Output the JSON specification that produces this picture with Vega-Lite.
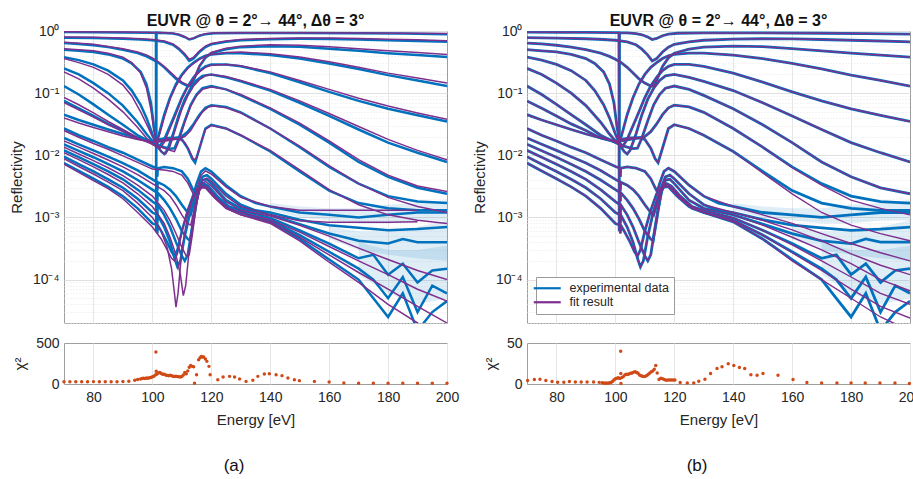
{
"$schema": "https://vega.github.io/schema/vega-lite/v6.json",
"background": "white",
"padding": {"left": 8, "top": 12, "right": 5, "bottom": 5},
"config": {
 "font": "Liberation Sans",
 "view": {"stroke": "#9e9e9e", "strokeWidth": 1},
 "axis": {"labelFont": "Liberation Sans", "titleFont": "Liberation Sans", "labelColor": "#262626", "titleColor": "#262626", "titleFontWeight": "normal", "domain": false, "ticks": false, "gridColor": "#e3e3e3", "labelFontSize": 14, "titleFontSize": 15},
 "title": {"font": "Liberation Sans", "color": "#111111"}
},
"datasets": {
"exp": [
{"c":1,"E":70,"R":0.96},{"c":1,"E":80,"R":0.955},{"c":1,"E":90,"R":0.95},{"c":1,"E":100,"R":0.94},{"c":1,"E":101.2,"R":0.94},{"c":1,"E":101.3,"R":0.0006},{"c":1,"E":101.4,"R":0.94},{"c":1,"E":104,"R":0.93},{"c":1,"E":107,"R":0.91},{"c":1,"E":109,"R":0.87},{"c":1,"E":111,"R":0.8},{"c":1,"E":112.5,"R":0.73},{"c":1,"E":114,"R":0.76},{"c":1,"E":116,"R":0.84},{"c":1,"E":118,"R":0.89},{"c":1,"E":121,"R":0.92},{"c":1,"E":130,"R":0.93},{"c":1,"E":150,"R":0.93},{"c":1,"E":170,"R":0.92},{"c":1,"E":185,"R":0.91},{"c":1,"E":200,"R":0.89},
{"c":2,"E":70,"R":0.78},{"c":2,"E":80,"R":0.77},{"c":2,"E":90,"R":0.75},{"c":2,"E":96,"R":0.73},{"c":2,"E":100,"R":0.71},{"c":2,"E":104,"R":0.67},{"c":2,"E":107,"R":0.6},{"c":2,"E":109,"R":0.51},{"c":2,"E":111,"R":0.41},{"c":2,"E":112.5,"R":0.33},{"c":2,"E":114,"R":0.36},{"c":2,"E":116,"R":0.46},{"c":2,"E":118,"R":0.55},{"c":2,"E":120,"R":0.61},{"c":2,"E":125,"R":0.67},{"c":2,"E":130,"R":0.71},{"c":2,"E":140,"R":0.74},{"c":2,"E":150,"R":0.75},{"c":2,"E":160,"R":0.745},{"c":2,"E":170,"R":0.73},{"c":2,"E":180,"R":0.71},{"c":2,"E":190,"R":0.69},{"c":2,"E":200,"R":0.67},
{"c":3,"E":70,"R":0.64},{"c":3,"E":75,"R":0.62},{"c":3,"E":80,"R":0.59},{"c":3,"E":85,"R":0.55},{"c":3,"E":90,"R":0.5},{"c":3,"E":95,"R":0.44},{"c":3,"E":98,"R":0.39},{"c":3,"E":100,"R":0.35},{"c":3,"E":102,"R":0.31},{"c":3,"E":104,"R":0.26},{"c":3,"E":106,"R":0.21},{"c":3,"E":108,"R":0.17},{"c":3,"E":110,"R":0.145},{"c":3,"E":112,"R":0.13},{"c":3,"E":113,"R":0.13},{"c":3,"E":114,"R":0.16},{"c":3,"E":116,"R":0.27},{"c":3,"E":118,"R":0.37},{"c":3,"E":120,"R":0.44},{"c":3,"E":125,"R":0.51},{"c":3,"E":130,"R":0.55},{"c":3,"E":140,"R":0.57},{"c":3,"E":150,"R":0.56},{"c":3,"E":160,"R":0.52},{"c":3,"E":170,"R":0.48},{"c":3,"E":180,"R":0.44},{"c":3,"E":190,"R":0.41},{"c":3,"E":200,"R":0.38},
{"c":4,"E":70,"R":0.5},{"c":4,"E":75,"R":0.48},{"c":4,"E":80,"R":0.46},{"c":4,"E":85,"R":0.42},{"c":4,"E":90,"R":0.36},{"c":4,"E":93,"R":0.3},{"c":4,"E":96,"R":0.22},{"c":4,"E":98,"R":0.14},{"c":4,"E":99.5,"R":0.07},{"c":4,"E":100.5,"R":0.03},{"c":4,"E":101.3,"R":0.017},{"c":4,"E":102,"R":0.02},{"c":4,"E":104,"R":0.045},{"c":4,"E":106,"R":0.085},{"c":4,"E":108,"R":0.14},{"c":4,"E":110,"R":0.2},{"c":4,"E":112,"R":0.26},{"c":4,"E":114,"R":0.31},{"c":4,"E":116,"R":0.36},{"c":4,"E":118,"R":0.4},{"c":4,"E":120,"R":0.42},{"c":4,"E":125,"R":0.44},{"c":4,"E":130,"R":0.44},{"c":4,"E":140,"R":0.41},{"c":4,"E":150,"R":0.36},{"c":4,"E":160,"R":0.3},{"c":4,"E":170,"R":0.245},{"c":4,"E":180,"R":0.195},{"c":4,"E":190,"R":0.16},{"c":4,"E":200,"R":0.13},
{"c":5,"E":70,"R":0.38},{"c":5,"E":75,"R":0.34},{"c":5,"E":80,"R":0.29},{"c":5,"E":85,"R":0.23},{"c":5,"E":90,"R":0.16},{"c":5,"E":93,"R":0.11},{"c":5,"E":96,"R":0.065},{"c":5,"E":98,"R":0.04},{"c":5,"E":100,"R":0.022},{"c":5,"E":101.3,"R":0.016},{"c":5,"E":102.5,"R":0.014},{"c":5,"E":104,"R":0.018},{"c":5,"E":106,"R":0.03},{"c":5,"E":108,"R":0.05},{"c":5,"E":110,"R":0.085},{"c":5,"E":112,"R":0.13},{"c":5,"E":114,"R":0.18},{"c":5,"E":116,"R":0.23},{"c":5,"E":118,"R":0.27},{"c":5,"E":120,"R":0.29},{"c":5,"E":125,"R":0.29},{"c":5,"E":130,"R":0.27},{"c":5,"E":140,"R":0.21},{"c":5,"E":150,"R":0.15},{"c":5,"E":160,"R":0.105},{"c":5,"E":170,"R":0.075},{"c":5,"E":180,"R":0.056},{"c":5,"E":190,"R":0.044},{"c":5,"E":200,"R":0.035},
{"c":6,"E":70,"R":0.25},{"c":6,"E":75,"R":0.2},{"c":6,"E":80,"R":0.145},{"c":6,"E":85,"R":0.1},{"c":6,"E":90,"R":0.063},{"c":6,"E":95,"R":0.034},{"c":6,"E":98,"R":0.022},{"c":6,"E":100,"R":0.017},{"c":6,"E":101.5,"R":0.0145},{"c":6,"E":103,"R":0.0115},{"c":6,"E":104,"R":0.0105},{"c":6,"E":105,"R":0.012},{"c":6,"E":107,"R":0.022},{"c":6,"E":109,"R":0.045},{"c":6,"E":111,"R":0.08},{"c":6,"E":113,"R":0.12},{"c":6,"E":115,"R":0.16},{"c":6,"E":117,"R":0.19},{"c":6,"E":120,"R":0.2},{"c":6,"E":125,"R":0.18},{"c":6,"E":130,"R":0.155},{"c":6,"E":140,"R":0.11},{"c":6,"E":150,"R":0.07},{"c":6,"E":160,"R":0.043},{"c":6,"E":170,"R":0.026},{"c":6,"E":180,"R":0.016},{"c":6,"E":190,"R":0.011},{"c":6,"E":200,"R":0.0078},
{"c":7,"E":70,"R":0.13},{"c":7,"E":75,"R":0.095},{"c":7,"E":80,"R":0.066},{"c":7,"E":85,"R":0.045},{"c":7,"E":90,"R":0.031},{"c":7,"E":95,"R":0.021},{"c":7,"E":100,"R":0.016},{"c":7,"E":102,"R":0.0145},{"c":7,"E":104,"R":0.0135},{"c":7,"E":106,"R":0.0128},{"c":7,"E":107.5,"R":0.013},{"c":7,"E":109,"R":0.019},{"c":7,"E":111,"R":0.036},{"c":7,"E":113,"R":0.065},{"c":7,"E":115,"R":0.095},{"c":7,"E":117,"R":0.12},{"c":7,"E":120,"R":0.13},{"c":7,"E":125,"R":0.115},{"c":7,"E":130,"R":0.092},{"c":7,"E":140,"R":0.056},{"c":7,"E":150,"R":0.031},{"c":7,"E":160,"R":0.016},{"c":7,"E":170,"R":0.0078},{"c":7,"E":180,"R":0.0045},{"c":7,"E":190,"R":0.003},{"c":7,"E":200,"R":0.0024},
{"c":8,"E":70,"R":0.075},{"c":8,"E":75,"R":0.057},{"c":8,"E":80,"R":0.043},{"c":8,"E":85,"R":0.032},{"c":8,"E":90,"R":0.025},{"c":8,"E":95,"R":0.019},{"c":8,"E":100,"R":0.0165},{"c":8,"E":102,"R":0.017},{"c":8,"E":105,"R":0.018},{"c":8,"E":108,"R":0.019},{"c":8,"E":110,"R":0.02},{"c":8,"E":112,"R":0.024},{"c":8,"E":114,"R":0.032},{"c":8,"E":116,"R":0.045},{"c":8,"E":118,"R":0.058},{"c":8,"E":120,"R":0.064},{"c":8,"E":125,"R":0.06},{"c":8,"E":130,"R":0.049},{"c":8,"E":140,"R":0.027},{"c":8,"E":150,"R":0.0135},{"c":8,"E":160,"R":0.0065},{"c":8,"E":170,"R":0.0035},{"c":8,"E":180,"R":0.0022},{"c":8,"E":190,"R":0.0018},{"c":8,"E":200,"R":0.0017},
{"c":9,"E":70,"R":0.045},{"c":9,"E":75,"R":0.037},{"c":9,"E":80,"R":0.031},{"c":9,"E":85,"R":0.026},{"c":9,"E":90,"R":0.022},{"c":9,"E":95,"R":0.019},{"c":9,"E":100,"R":0.0168},{"c":9,"E":102,"R":0.018},{"c":9,"E":105,"R":0.019},{"c":9,"E":108,"R":0.0192},{"c":9,"E":110,"R":0.018},{"c":9,"E":112,"R":0.013},{"c":9,"E":113.5,"R":0.0088},{"c":9,"E":114.5,"R":0.0076},{"c":9,"E":116,"R":0.013},{"c":9,"E":118,"R":0.027},{"c":9,"E":120,"R":0.031},{"c":9,"E":125,"R":0.027},{"c":9,"E":130,"R":0.021},{"c":9,"E":140,"R":0.0115},{"c":9,"E":150,"R":0.0055},{"c":9,"E":160,"R":0.0027},{"c":9,"E":170,"R":0.0017},{"c":9,"E":180,"R":0.0014},{"c":9,"E":190,"R":0.0013},{"c":9,"E":200,"R":0.0013},
{"c":10,"E":70,"R":0.027},{"c":10,"E":75,"R":0.021},{"c":10,"E":80,"R":0.017},{"c":10,"E":85,"R":0.0135},{"c":10,"E":90,"R":0.011},{"c":10,"E":95,"R":0.0085},{"c":10,"E":100,"R":0.0066},{"c":10,"E":101.6,"R":0.0062},{"c":10,"E":101.7,"R":0.0045},{"c":10,"E":101.8,"R":0.0062},{"c":10,"E":104,"R":0.0065},{"c":10,"E":107,"R":0.0062},{"c":10,"E":110,"R":0.0055},{"c":10,"E":112,"R":0.0042},{"c":10,"E":113.5,"R":0.003},{"c":10,"E":114.2,"R":0.0026},{"c":10,"E":115,"R":0.0035},{"c":10,"E":116.5,"R":0.0055},{"c":10,"E":118,"R":0.0062},{"c":10,"E":120,"R":0.0055},{"c":10,"E":125,"R":0.0033},{"c":10,"E":130,"R":0.0022},{"c":10,"E":135,"R":0.0017},{"c":10,"E":140,"R":0.0015},{"c":10,"E":150,"R":0.0012},{"c":10,"E":160,"R":0.0011},{"c":10,"E":170,"R":0.001},{"c":10,"E":180,"R":0.0011},{"c":10,"E":190,"R":0.0012},{"c":10,"E":200,"R":0.0012},
{"c":11,"E":70,"R":0.019},{"c":11,"E":75,"R":0.015},{"c":11,"E":80,"R":0.012},{"c":11,"E":85,"R":0.0095},{"c":11,"E":90,"R":0.0075},{"c":11,"E":95,"R":0.0057},{"c":11,"E":100,"R":0.0041},{"c":11,"E":101.6,"R":0.0037},{"c":11,"E":101.7,"R":0.0027},{"c":11,"E":101.8,"R":0.0037},{"c":11,"E":104,"R":0.0033},{"c":11,"E":106,"R":0.0028},{"c":11,"E":108,"R":0.0022},{"c":11,"E":110,"R":0.0016},{"c":11,"E":112,"R":0.0012},{"c":11,"E":113,"R":0.0011},{"c":11,"E":114,"R":0.0016},{"c":11,"E":115.5,"R":0.003},{"c":11,"E":117,"R":0.0045},{"c":11,"E":118.5,"R":0.0048},{"c":11,"E":120,"R":0.0042},{"c":11,"E":125,"R":0.0024},{"c":11,"E":130,"R":0.0016},{"c":11,"E":135,"R":0.0013},{"c":11,"E":140,"R":0.0012},{"c":11,"E":150,"R":0.00092},{"c":11,"E":160,"R":0.00075},{"c":11,"E":170,"R":0.00068},{"c":11,"E":180,"R":0.00062},{"c":11,"E":190,"R":0.00065},{"c":11,"E":200,"R":0.0007},
{"c":12,"E":70,"R":0.015},{"c":12,"E":75,"R":0.0118},{"c":12,"E":80,"R":0.0093},{"c":12,"E":85,"R":0.0072},{"c":12,"E":90,"R":0.0055},{"c":12,"E":95,"R":0.004},{"c":12,"E":100,"R":0.0028},{"c":12,"E":101.6,"R":0.0025},{"c":12,"E":101.7,"R":0.0018},{"c":12,"E":101.8,"R":0.0025},{"c":12,"E":104,"R":0.0019},{"c":12,"E":106,"R":0.0014},{"c":12,"E":108,"R":0.00095},{"c":12,"E":110,"R":0.0006},{"c":12,"E":112,"R":0.00045},{"c":12,"E":112.8,"R":0.00042},{"c":12,"E":114,"R":0.0009},{"c":12,"E":115.5,"R":0.0025},{"c":12,"E":117,"R":0.004},{"c":12,"E":118.5,"R":0.0041},{"c":12,"E":120,"R":0.0035},{"c":12,"E":125,"R":0.0019},{"c":12,"E":130,"R":0.0014},{"c":12,"E":140,"R":0.0011},{"c":12,"E":150,"R":0.00078},{"c":12,"E":160,"R":0.00055},{"c":12,"E":170,"R":0.00042},{"c":12,"E":180,"R":0.00038},{"c":12,"E":185,"R":0.00045},{"c":12,"E":190,"R":0.0004},{"c":12,"E":200,"R":0.0004},
{"c":13,"E":70,"R":0.012},{"c":13,"E":75,"R":0.0093},{"c":13,"E":80,"R":0.0072},{"c":13,"E":85,"R":0.0055},{"c":13,"E":90,"R":0.0041},{"c":13,"E":95,"R":0.0028},{"c":13,"E":100,"R":0.0018},{"c":13,"E":101.6,"R":0.0016},{"c":13,"E":101.7,"R":0.0011},{"c":13,"E":101.8,"R":0.0016},{"c":13,"E":104,"R":0.0011},{"c":13,"E":106,"R":0.0007},{"c":13,"E":108,"R":0.0004},{"c":13,"E":110,"R":0.00024},{"c":13,"E":111,"R":0.0002},{"c":13,"E":112,"R":0.00025},{"c":13,"E":113,"R":0.0005},{"c":13,"E":114.5,"R":0.0014},{"c":13,"E":116,"R":0.003},{"c":13,"E":117.5,"R":0.0035},{"c":13,"E":119,"R":0.0032},{"c":13,"E":122,"R":0.0022},{"c":13,"E":126,"R":0.0015},{"c":13,"E":130,"R":0.0013},{"c":13,"E":140,"R":0.00098},{"c":13,"E":150,"R":0.00062},{"c":13,"E":160,"R":0.00038},{"c":13,"E":170,"R":0.00022},{"c":13,"E":175,"R":0.00025},{"c":13,"E":180,"R":0.00012},{"c":13,"E":185,"R":0.00018},{"c":13,"E":190,"R":0.00009},{"c":13,"E":195,"R":0.00014},{"c":13,"E":200,"R":0.00015},
{"c":14,"E":70,"R":0.0095},{"c":14,"E":75,"R":0.0072},{"c":14,"E":80,"R":0.0055},{"c":14,"E":85,"R":0.0041},{"c":14,"E":90,"R":0.003},{"c":14,"E":95,"R":0.002},{"c":14,"E":100,"R":0.0012},{"c":14,"E":101.6,"R":0.0011},{"c":14,"E":101.7,"R":0.0008},{"c":14,"E":101.8,"R":0.0011},{"c":14,"E":104,"R":0.0007},{"c":14,"E":106,"R":0.0004},{"c":14,"E":107.5,"R":0.00022},{"c":14,"E":108.5,"R":0.00016},{"c":14,"E":109.5,"R":0.0002},{"c":14,"E":111,"R":0.0005},{"c":14,"E":113,"R":0.0013},{"c":14,"E":115,"R":0.0025},{"c":14,"E":117,"R":0.0033},{"c":14,"E":119,"R":0.003},{"c":14,"E":122,"R":0.0021},{"c":14,"E":126,"R":0.0014},{"c":14,"E":130,"R":0.0012},{"c":14,"E":140,"R":0.0009},{"c":14,"E":150,"R":0.00052},{"c":14,"E":160,"R":0.00028},{"c":14,"E":170,"R":0.00015},{"c":14,"E":175,"R":0.0001},{"c":14,"E":180,"R":0.00005},{"c":14,"E":185,"R":0.00011},{"c":14,"E":190,"R":0.00003},{"c":14,"E":195,"R":0.00008},{"c":14,"E":200,"R":0.00006},
{"c":15,"E":70,"R":0.0075},{"c":15,"E":75,"R":0.0056},{"c":15,"E":80,"R":0.0042},{"c":15,"E":85,"R":0.0031},{"c":15,"E":90,"R":0.0022},{"c":15,"E":95,"R":0.0014},{"c":15,"E":100,"R":0.0008},{"c":15,"E":101.6,"R":0.00075},{"c":15,"E":101.7,"R":0.00055},{"c":15,"E":101.8,"R":0.00075},{"c":15,"E":103,"R":0.0006},{"c":15,"E":105,"R":0.0004},{"c":15,"E":106.5,"R":0.00028},{"c":15,"E":107.5,"R":0.00024},{"c":15,"E":108.5,"R":0.0003},{"c":15,"E":110,"R":0.0006},{"c":15,"E":112,"R":0.0013},{"c":15,"E":114,"R":0.0024},{"c":15,"E":116,"R":0.0031},{"c":15,"E":118,"R":0.0031},{"c":15,"E":121,"R":0.0022},{"c":15,"E":125,"R":0.0015},{"c":15,"E":130,"R":0.0012},{"c":15,"E":140,"R":0.00085},{"c":15,"E":150,"R":0.00045},{"c":15,"E":160,"R":0.00021},{"c":15,"E":170,"R":0.0001},{"c":15,"E":175,"R":0.00005},{"c":15,"E":180,"R":0.000025},{"c":15,"E":185,"R":0.00006},{"c":15,"E":190,"R":0.000015},{"c":15,"E":195,"R":0.00003},{"c":15,"E":200,"R":0.000045}
],
"fitA": [
{"c":1,"E":70,"R":0.97},{"c":1,"E":90,"R":0.96},{"c":1,"E":100,"R":0.95},{"c":1,"E":104,"R":0.94},{"c":1,"E":107,"R":0.92},{"c":1,"E":109,"R":0.88},{"c":1,"E":111,"R":0.81},{"c":1,"E":112.5,"R":0.74},{"c":1,"E":114,"R":0.77},{"c":1,"E":116,"R":0.85},{"c":1,"E":118,"R":0.9},{"c":1,"E":121,"R":0.93},{"c":1,"E":130,"R":0.94},{"c":1,"E":150,"R":0.94},{"c":1,"E":170,"R":0.93},{"c":1,"E":185,"R":0.92},{"c":1,"E":200,"R":0.91},
{"c":2,"E":70,"R":0.8},{"c":2,"E":80,"R":0.79},{"c":2,"E":90,"R":0.77},{"c":2,"E":96,"R":0.75},{"c":2,"E":100,"R":0.73},{"c":2,"E":104,"R":0.69},{"c":2,"E":107,"R":0.62},{"c":2,"E":109,"R":0.53},{"c":2,"E":111,"R":0.43},{"c":2,"E":112.5,"R":0.35},{"c":2,"E":114,"R":0.38},{"c":2,"E":116,"R":0.48},{"c":2,"E":118,"R":0.57},{"c":2,"E":120,"R":0.63},{"c":2,"E":125,"R":0.69},{"c":2,"E":130,"R":0.73},{"c":2,"E":140,"R":0.76},{"c":2,"E":150,"R":0.77},{"c":2,"E":160,"R":0.77},{"c":2,"E":170,"R":0.76},{"c":2,"E":180,"R":0.74},{"c":2,"E":190,"R":0.72},{"c":2,"E":200,"R":0.7},
{"c":3,"E":70,"R":0.66},{"c":3,"E":80,"R":0.61},{"c":3,"E":90,"R":0.52},{"c":3,"E":95,"R":0.46},{"c":3,"E":98,"R":0.41},{"c":3,"E":100,"R":0.37},{"c":3,"E":102,"R":0.32},{"c":3,"E":104,"R":0.27},{"c":3,"E":106,"R":0.22},{"c":3,"E":108,"R":0.18},{"c":3,"E":110,"R":0.15},{"c":3,"E":112,"R":0.135},{"c":3,"E":113,"R":0.135},{"c":3,"E":114,"R":0.17},{"c":3,"E":116,"R":0.28},{"c":3,"E":118,"R":0.38},{"c":3,"E":120,"R":0.45},{"c":3,"E":125,"R":0.53},{"c":3,"E":130,"R":0.57},{"c":3,"E":140,"R":0.6},{"c":3,"E":150,"R":0.59},{"c":3,"E":160,"R":0.56},{"c":3,"E":170,"R":0.52},{"c":3,"E":180,"R":0.48},{"c":3,"E":190,"R":0.45},{"c":3,"E":200,"R":0.42},
{"c":4,"E":70,"R":0.52},{"c":4,"E":80,"R":0.48},{"c":4,"E":85,"R":0.44},{"c":4,"E":90,"R":0.38},{"c":4,"E":93,"R":0.31},{"c":4,"E":96,"R":0.21},{"c":4,"E":98,"R":0.12},{"c":4,"E":99.5,"R":0.055},{"c":4,"E":100.5,"R":0.025},{"c":4,"E":101.5,"R":0.016},{"c":4,"E":102.5,"R":0.022},{"c":4,"E":104,"R":0.04},{"c":4,"E":106,"R":0.08},{"c":4,"E":108,"R":0.13},{"c":4,"E":110,"R":0.19},{"c":4,"E":112,"R":0.25},{"c":4,"E":114,"R":0.3},{"c":4,"E":116,"R":0.35},{"c":4,"E":118,"R":0.39},{"c":4,"E":120,"R":0.42},{"c":4,"E":125,"R":0.45},{"c":4,"E":130,"R":0.46},{"c":4,"E":140,"R":0.43},{"c":4,"E":150,"R":0.38},{"c":4,"E":160,"R":0.32},{"c":4,"E":170,"R":0.26},{"c":4,"E":180,"R":0.21},{"c":4,"E":190,"R":0.175},{"c":4,"E":200,"R":0.145},
{"c":5,"E":70,"R":0.36},{"c":5,"E":75,"R":0.31},{"c":5,"E":80,"R":0.26},{"c":5,"E":85,"R":0.2},{"c":5,"E":90,"R":0.135},{"c":5,"E":93,"R":0.09},{"c":5,"E":96,"R":0.05},{"c":5,"E":98,"R":0.032},{"c":5,"E":100,"R":0.02},{"c":5,"E":101.5,"R":0.015},{"c":5,"E":102.5,"R":0.013},{"c":5,"E":104,"R":0.016},{"c":5,"E":106,"R":0.027},{"c":5,"E":108,"R":0.046},{"c":5,"E":110,"R":0.08},{"c":5,"E":112,"R":0.125},{"c":5,"E":114,"R":0.175},{"c":5,"E":116,"R":0.22},{"c":5,"E":118,"R":0.26},{"c":5,"E":120,"R":0.28},{"c":5,"E":125,"R":0.29},{"c":5,"E":130,"R":0.275},{"c":5,"E":140,"R":0.22},{"c":5,"E":150,"R":0.16},{"c":5,"E":160,"R":0.115},{"c":5,"E":170,"R":0.083},{"c":5,"E":180,"R":0.062},{"c":5,"E":190,"R":0.048},{"c":5,"E":200,"R":0.038},
{"c":6,"E":70,"R":0.22},{"c":6,"E":75,"R":0.17},{"c":6,"E":80,"R":0.12},{"c":6,"E":85,"R":0.08},{"c":6,"E":90,"R":0.05},{"c":6,"E":95,"R":0.028},{"c":6,"E":98,"R":0.019},{"c":6,"E":100,"R":0.015},{"c":6,"E":102,"R":0.013},{"c":6,"E":103.5,"R":0.011},{"c":6,"E":104.5,"R":0.0105},{"c":6,"E":106,"R":0.014},{"c":6,"E":108,"R":0.028},{"c":6,"E":110,"R":0.055},{"c":6,"E":112,"R":0.09},{"c":6,"E":114,"R":0.13},{"c":6,"E":116,"R":0.165},{"c":6,"E":118,"R":0.19},{"c":6,"E":120,"R":0.2},{"c":6,"E":125,"R":0.185},{"c":6,"E":130,"R":0.16},{"c":6,"E":140,"R":0.115},{"c":6,"E":150,"R":0.075},{"c":6,"E":160,"R":0.047},{"c":6,"E":170,"R":0.029},{"c":6,"E":180,"R":0.018},{"c":6,"E":190,"R":0.012},{"c":6,"E":200,"R":0.0085},
{"c":7,"E":70,"R":0.085},{"c":7,"E":75,"R":0.065},{"c":7,"E":80,"R":0.048},{"c":7,"E":85,"R":0.035},{"c":7,"E":90,"R":0.026},{"c":7,"E":95,"R":0.019},{"c":7,"E":100,"R":0.015},{"c":7,"E":103,"R":0.0135},{"c":7,"E":106,"R":0.012},{"c":7,"E":107.5,"R":0.0115},{"c":7,"E":109,"R":0.017},{"c":7,"E":111,"R":0.034},{"c":7,"E":113,"R":0.062},{"c":7,"E":115,"R":0.092},{"c":7,"E":117,"R":0.115},{"c":7,"E":120,"R":0.125},{"c":7,"E":125,"R":0.115},{"c":7,"E":130,"R":0.095},{"c":7,"E":140,"R":0.058},{"c":7,"E":150,"R":0.033},{"c":7,"E":160,"R":0.017},{"c":7,"E":170,"R":0.0085},{"c":7,"E":180,"R":0.0048},{"c":7,"E":190,"R":0.0032},{"c":7,"E":200,"R":0.0026},
{"c":8,"E":70,"R":0.07},{"c":8,"E":75,"R":0.054},{"c":8,"E":80,"R":0.041},{"c":8,"E":85,"R":0.031},{"c":8,"E":90,"R":0.024},{"c":8,"E":95,"R":0.0185},{"c":8,"E":100,"R":0.016},{"c":8,"E":103,"R":0.0165},{"c":8,"E":106,"R":0.0175},{"c":8,"E":109,"R":0.0185},{"c":8,"E":111,"R":0.02},{"c":8,"E":113,"R":0.025},{"c":8,"E":115,"R":0.036},{"c":8,"E":117,"R":0.05},{"c":8,"E":119,"R":0.06},{"c":8,"E":121,"R":0.062},{"c":8,"E":125,"R":0.058},{"c":8,"E":130,"R":0.048},{"c":8,"E":140,"R":0.027},{"c":8,"E":150,"R":0.014},{"c":8,"E":160,"R":0.0068},{"c":8,"E":170,"R":0.0035},{"c":8,"E":180,"R":0.0021},{"c":8,"E":190,"R":0.0015},{"c":8,"E":200,"R":0.0012},
{"c":9,"E":70,"R":0.04},{"c":9,"E":75,"R":0.033},{"c":9,"E":80,"R":0.028},{"c":9,"E":85,"R":0.024},{"c":9,"E":90,"R":0.0205},{"c":9,"E":95,"R":0.018},{"c":9,"E":100,"R":0.0162},{"c":9,"E":103,"R":0.0175},{"c":9,"E":106,"R":0.0185},{"c":9,"E":109,"R":0.0185},{"c":9,"E":111,"R":0.016},{"c":9,"E":112.5,"R":0.012},{"c":9,"E":114,"R":0.0085},{"c":9,"E":115,"R":0.009},{"c":9,"E":116.5,"R":0.016},{"c":9,"E":118,"R":0.026},{"c":9,"E":120,"R":0.03},{"c":9,"E":125,"R":0.027},{"c":9,"E":130,"R":0.021},{"c":9,"E":140,"R":0.012},{"c":9,"E":150,"R":0.0058},{"c":9,"E":160,"R":0.0028},{"c":9,"E":170,"R":0.0016},{"c":9,"E":180,"R":0.0011},{"c":9,"E":190,"R":0.0009},{"c":9,"E":200,"R":0.0008},
{"c":10,"E":70,"R":0.025},{"c":10,"E":75,"R":0.0195},{"c":10,"E":80,"R":0.0155},{"c":10,"E":85,"R":0.0125},{"c":10,"E":90,"R":0.0098},{"c":10,"E":95,"R":0.0077},{"c":10,"E":100,"R":0.006},{"c":10,"E":104,"R":0.0058},{"c":10,"E":107,"R":0.0055},{"c":10,"E":110,"R":0.0048},{"c":10,"E":112,"R":0.0036},{"c":10,"E":113.5,"R":0.0026},{"c":10,"E":114.3,"R":0.0022},{"c":10,"E":115.2,"R":0.003},{"c":10,"E":116.5,"R":0.0048},{"c":10,"E":118,"R":0.0056},{"c":10,"E":120,"R":0.005},{"c":10,"E":125,"R":0.0031},{"c":10,"E":130,"R":0.0021},{"c":10,"E":140,"R":0.0015},{"c":10,"E":150,"R":0.0013},{"c":10,"E":160,"R":0.0013},{"c":10,"E":170,"R":0.0013},{"c":10,"E":180,"R":0.0013},{"c":10,"E":190,"R":0.0013},
{"c":11,"E":70,"R":0.017},{"c":11,"E":75,"R":0.0135},{"c":11,"E":80,"R":0.0107},{"c":11,"E":85,"R":0.0084},{"c":11,"E":90,"R":0.0065},{"c":11,"E":95,"R":0.0049},{"c":11,"E":100,"R":0.0035},{"c":11,"E":104,"R":0.0027},{"c":11,"E":106,"R":0.0022},{"c":11,"E":108,"R":0.0016},{"c":11,"E":110,"R":0.0011},{"c":11,"E":112,"R":0.0008},{"c":11,"E":113,"R":0.00075},{"c":11,"E":114,"R":0.0012},{"c":11,"E":115.5,"R":0.0026},{"c":11,"E":117,"R":0.004},{"c":11,"E":118.5,"R":0.0043},{"c":11,"E":120,"R":0.0038},{"c":11,"E":125,"R":0.0022},{"c":11,"E":130,"R":0.0015},{"c":11,"E":140,"R":0.0011},{"c":11,"E":150,"R":0.00088},{"c":11,"E":160,"R":0.00084},{"c":11,"E":170,"R":0.00084},{"c":11,"E":180,"R":0.00084},{"c":11,"E":190,"R":0.00085},
{"c":12,"E":70,"R":0.0135},{"c":12,"E":75,"R":0.0105},{"c":12,"E":80,"R":0.0082},{"c":12,"E":85,"R":0.0063},{"c":12,"E":90,"R":0.0047},{"c":12,"E":95,"R":0.0033},{"c":12,"E":100,"R":0.0022},{"c":12,"E":104,"R":0.0013},{"c":12,"E":106,"R":0.00088},{"c":12,"E":108,"R":0.00055},{"c":12,"E":110,"R":0.00033},{"c":12,"E":111.5,"R":0.00024},{"c":12,"E":112.5,"R":0.00025},{"c":12,"E":113.5,"R":0.0005},{"c":12,"E":115,"R":0.0017},{"c":12,"E":116.5,"R":0.0034},{"c":12,"E":118,"R":0.0038},{"c":12,"E":120,"R":0.0032},{"c":12,"E":125,"R":0.0018},{"c":12,"E":130,"R":0.0013},{"c":12,"E":140,"R":0.00105},{"c":12,"E":150,"R":0.00075},{"c":12,"E":160,"R":0.0005},{"c":12,"E":170,"R":0.00032},{"c":12,"E":180,"R":0.00021},{"c":12,"E":190,"R":0.00014},{"c":12,"E":200,"R":0.0001},
{"c":13,"E":70,"R":0.011},{"c":13,"E":75,"R":0.0085},{"c":13,"E":80,"R":0.0065},{"c":13,"E":85,"R":0.0049},{"c":13,"E":90,"R":0.0036},{"c":13,"E":95,"R":0.0024},{"c":13,"E":100,"R":0.0015},{"c":13,"E":104,"R":0.0008},{"c":13,"E":106,"R":0.00048},{"c":13,"E":108,"R":0.00025},{"c":13,"E":109.5,"R":0.00012},{"c":13,"E":110.5,"R":0.000055},{"c":13,"E":111.3,"R":0.00008},{"c":13,"E":112.5,"R":0.0003},{"c":13,"E":114,"R":0.0011},{"c":13,"E":116,"R":0.0027},{"c":13,"E":117.5,"R":0.0033},{"c":13,"E":119,"R":0.003},{"c":13,"E":122,"R":0.002},{"c":13,"E":126,"R":0.0014},{"c":13,"E":130,"R":0.0012},{"c":13,"E":140,"R":0.00092},{"c":13,"E":150,"R":0.00058},{"c":13,"E":160,"R":0.00034},{"c":13,"E":170,"R":0.0002},{"c":13,"E":180,"R":0.00012},{"c":13,"E":190,"R":0.00007},{"c":13,"E":200,"R":0.000045},
{"c":14,"E":70,"R":0.0088},{"c":14,"E":75,"R":0.0066},{"c":14,"E":80,"R":0.005},{"c":14,"E":85,"R":0.0037},{"c":14,"E":90,"R":0.0027},{"c":14,"E":95,"R":0.0017},{"c":14,"E":100,"R":0.001},{"c":14,"E":103,"R":0.0006},{"c":14,"E":105,"R":0.00033},{"c":14,"E":106.5,"R":0.00015},{"c":14,"E":107.5,"R":0.00006},{"c":14,"E":108,"R":0.000036},{"c":14,"E":108.7,"R":0.00006},{"c":14,"E":110,"R":0.0003},{"c":14,"E":112,"R":0.0011},{"c":14,"E":114,"R":0.0022},{"c":14,"E":116,"R":0.0031},{"c":14,"E":118,"R":0.003},{"c":14,"E":121,"R":0.0021},{"c":14,"E":125,"R":0.0014},{"c":14,"E":130,"R":0.0011},{"c":14,"E":140,"R":0.00085},{"c":14,"E":150,"R":0.00048},{"c":14,"E":160,"R":0.00025},{"c":14,"E":170,"R":0.00013},{"c":14,"E":180,"R":0.00007},{"c":14,"E":190,"R":0.000037},{"c":14,"E":200,"R":0.00002},
{"c":15,"E":70,"R":0.0072},{"c":15,"E":75,"R":0.0053},{"c":15,"E":80,"R":0.0039},{"c":15,"E":85,"R":0.0029},{"c":15,"E":90,"R":0.002},{"c":15,"E":95,"R":0.0012},{"c":15,"E":100,"R":0.0007},{"c":15,"E":103,"R":0.00045},{"c":15,"E":105,"R":0.0003},{"c":15,"E":106.5,"R":0.00022},{"c":15,"E":107.5,"R":0.0002},{"c":15,"E":108.5,"R":0.00026},{"c":15,"E":110,"R":0.0006},{"c":15,"E":112,"R":0.0013},{"c":15,"E":114,"R":0.0023},{"c":15,"E":116,"R":0.003},{"c":15,"E":118,"R":0.003},{"c":15,"E":121,"R":0.0021},{"c":15,"E":125,"R":0.0014},{"c":15,"E":130,"R":0.0011},{"c":15,"E":140,"R":0.0008},{"c":15,"E":150,"R":0.00042},{"c":15,"E":160,"R":0.00019},{"c":15,"E":170,"R":0.00009},{"c":15,"E":180,"R":0.00004},{"c":15,"E":190,"R":0.00002},{"c":15,"E":200,"R":0.00001}
],
"fitBtail": [
{"c":8,"E":130,"R":0.049},{"c":8,"E":140,"R":0.027},{"c":8,"E":150,"R":0.0135},{"c":8,"E":160,"R":0.0063},{"c":8,"E":170,"R":0.0033},{"c":8,"E":180,"R":0.0019},{"c":8,"E":190,"R":0.0014},{"c":8,"E":200,"R":0.0011},
{"c":9,"E":130,"R":0.021},{"c":9,"E":140,"R":0.0115},{"c":9,"E":150,"R":0.0052},{"c":9,"E":160,"R":0.0024},{"c":9,"E":170,"R":0.0012},{"c":9,"E":180,"R":0.00075},{"c":9,"E":190,"R":0.00055},{"c":9,"E":200,"R":0.00042},
{"c":10,"E":130,"R":0.0022},{"c":10,"E":140,"R":0.0015},{"c":10,"E":150,"R":0.0011},{"c":10,"E":160,"R":0.0008},{"c":10,"E":170,"R":0.00055},{"c":10,"E":180,"R":0.00038},{"c":10,"E":190,"R":0.00027},{"c":10,"E":200,"R":0.0002},
{"c":11,"E":130,"R":0.0016},{"c":11,"E":140,"R":0.0012},{"c":11,"E":150,"R":0.0009},{"c":11,"E":160,"R":0.00063},{"c":11,"E":170,"R":0.00042},{"c":11,"E":180,"R":0.00026},{"c":11,"E":190,"R":0.00017},{"c":11,"E":200,"R":0.00012},
{"c":12,"E":130,"R":0.0014},{"c":12,"E":140,"R":0.0011},{"c":12,"E":150,"R":0.00075},{"c":12,"E":160,"R":0.00048},{"c":12,"E":170,"R":0.0003},{"c":12,"E":180,"R":0.00018},{"c":12,"E":190,"R":0.0001},{"c":12,"E":200,"R":0.000066},
{"c":13,"E":130,"R":0.0013},{"c":13,"E":140,"R":0.00098},{"c":13,"E":150,"R":0.00062},{"c":13,"E":160,"R":0.00036},{"c":13,"E":170,"R":0.0002},{"c":13,"E":180,"R":0.00011},{"c":13,"E":190,"R":0.00006},{"c":13,"E":200,"R":0.00004},
{"c":14,"E":130,"R":0.0012},{"c":14,"E":140,"R":0.0009},{"c":14,"E":150,"R":0.00052},{"c":14,"E":160,"R":0.00027},{"c":14,"E":170,"R":0.00014},{"c":14,"E":180,"R":0.00007},{"c":14,"E":190,"R":0.000037},{"c":14,"E":200,"R":0.000024},
{"c":15,"E":130,"R":0.0012},{"c":15,"E":140,"R":0.00085},{"c":15,"E":150,"R":0.00045},{"c":15,"E":160,"R":0.0002},{"c":15,"E":170,"R":0.0001},{"c":15,"E":180,"R":0.00005},{"c":15,"E":190,"R":0.000025},{"c":15,"E":200,"R":0.000015}
],
"band": [
{"c":10,"E":140,"lo":0.0013,"hi":0.0017},{"c":10,"E":150,"lo":0.001,"hi":0.0015},{"c":10,"E":160,"lo":0.0009,"hi":0.0014},{"c":10,"E":170,"lo":0.0008,"hi":0.0014},{"c":10,"E":180,"lo":0.0008,"hi":0.0016},{"c":10,"E":190,"lo":0.0009,"hi":0.0017},{"c":10,"E":200,"lo":0.0009,"hi":0.0019},
{"c":12,"E":160,"lo":0.00045,"hi":0.0007},{"c":12,"E":170,"lo":0.0003,"hi":0.0006},{"c":12,"E":180,"lo":0.00025,"hi":0.0006},{"c":12,"E":190,"lo":0.00022,"hi":0.0007},{"c":12,"E":200,"lo":0.0002,"hi":0.0009},
{"c":13,"E":170,"lo":0.00012,"hi":0.0004},{"c":13,"E":180,"lo":0.00006,"hi":0.0003},{"c":13,"E":190,"lo":0.00004,"hi":0.0003},{"c":13,"E":200,"lo":0.00005,"hi":0.00035}
],
"chiA": [
{"E":70,"chi":28},{"E":72,"chi":28},{"E":74,"chi":27},{"E":76,"chi":27},{"E":78,"chi":28},{"E":80,"chi":29},{"E":82,"chi":27},{"E":84,"chi":27},{"E":86,"chi":27},{"E":88,"chi":28},{"E":90,"chi":30},{"E":92,"chi":33},{"E":94,"chi":45},{"E":95,"chi":55},{"E":96,"chi":62},{"E":96.5,"chi":68},{"E":97,"chi":70},{"E":97.5,"chi":66},{"E":98,"chi":72},{"E":98.5,"chi":70},{"E":99,"chi":75},{"E":99.5,"chi":80},{"E":100,"chi":88},{"E":100.5,"chi":95},{"E":101,"chi":110},{"E":101.2,"chi":390},{"E":101.3,"chi":155},{"E":101.5,"chi":120},{"E":102,"chi":135},{"E":102.5,"chi":140},{"E":103,"chi":128},{"E":103.5,"chi":120},{"E":104,"chi":118},{"E":104.5,"chi":110},{"E":105,"chi":105},{"E":105.5,"chi":100},{"E":106,"chi":108},{"E":106.5,"chi":100},{"E":107,"chi":95},{"E":107.5,"chi":92},{"E":108,"chi":94},{"E":108.5,"chi":90},{"E":109,"chi":88},{"E":109.5,"chi":85},{"E":110,"chi":92},{"E":110.5,"chi":110},{"E":111,"chi":140},{"E":111.5,"chi":125},{"E":112,"chi":160},{"E":112.5,"chi":205},{"E":113,"chi":225},{"E":113.5,"chi":215},{"E":114,"chi":210},{"E":114.3,"chi":10},{"E":115,"chi":114},{"E":115.7,"chi":297},{"E":116.2,"chi":320},{"E":116.6,"chi":337},{"E":117,"chi":330},{"E":117.4,"chi":329},{"E":118,"chi":305},{"E":118.5,"chi":276},{"E":119.2,"chi":215},{"E":119.6,"chi":114},{"E":122.2,"chi":53},{"E":124,"chi":85},{"E":126.2,"chi":93},{"E":127.9,"chi":85},{"E":129.6,"chi":61},{"E":131.8,"chi":32},{"E":134.1,"chi":45},{"E":135.8,"chi":93},{"E":138,"chi":122},{"E":139.7,"chi":126},{"E":142,"chi":114},{"E":144,"chi":102},{"E":146,"chi":73},{"E":148.2,"chi":53},{"E":149.9,"chi":41},{"E":155,"chi":32},{"E":160,"chi":24},{"E":165,"chi":12},{"E":170,"chi":8},{"E":175,"chi":8},{"E":180,"chi":8},{"E":185,"chi":8},{"E":190,"chi":8},{"E":195,"chi":8},{"E":200,"chi":8}
],
"chiB": [
{"E":70.2,"chi":4.2},{"E":72.5,"chi":5.5},{"E":74.4,"chi":5.9},{"E":76.4,"chi":4.2},{"E":78.5,"chi":3},{"E":80.4,"chi":2.1},{"E":82.5,"chi":2.1},{"E":84.4,"chi":3},{"E":86.4,"chi":2.5},{"E":88.4,"chi":2.5},{"E":90.4,"chi":2.5},{"E":92.6,"chi":2.5},{"E":94.5,"chi":2},{"E":95.5,"chi":1.5},{"E":96,"chi":1.2},{"E":96.5,"chi":1},{"E":97,"chi":1.3},{"E":97.5,"chi":1},{"E":98,"chi":1.4},{"E":98.5,"chi":1.8},{"E":99,"chi":3},{"E":99.5,"chi":5},{"E":100,"chi":6.5},{"E":100.5,"chi":7},{"E":101,"chi":7.5},{"E":101.5,"chi":6.8},{"E":101.8,"chi":40},{"E":101.85,"chi":12.7},{"E":101.9,"chi":0.5},{"E":102.2,"chi":8},{"E":102.7,"chi":9},{"E":103.2,"chi":11},{"E":103.7,"chi":12},{"E":104.2,"chi":11.5},{"E":104.7,"chi":12.5},{"E":105.2,"chi":13},{"E":105.7,"chi":13.5},{"E":106.2,"chi":14.5},{"E":106.7,"chi":15},{"E":107.2,"chi":14},{"E":107.7,"chi":13},{"E":108.2,"chi":11},{"E":108.7,"chi":10},{"E":109.2,"chi":9.5},{"E":109.7,"chi":9},{"E":110.2,"chi":9.5},{"E":110.7,"chi":10.5},{"E":111.2,"chi":12},{"E":111.7,"chi":13.5},{"E":112.2,"chi":15},{"E":112.7,"chi":16},{"E":113.2,"chi":18},{"E":113.7,"chi":22.5},{"E":114.2,"chi":13.5},{"E":114.8,"chi":5.5},{"E":115.4,"chi":7},{"E":116,"chi":6.4},{"E":116.6,"chi":5.5},{"E":117.2,"chi":4.6},{"E":117.8,"chi":5},{"E":118.4,"chi":5},{"E":119,"chi":5},{"E":119.6,"chi":4.8},{"E":120.2,"chi":5},{"E":122,"chi":1.7},{"E":124.4,"chi":1.3},{"E":126.6,"chi":1.3},{"E":128.3,"chi":3.4},{"E":130.4,"chi":5.9},{"E":132.3,"chi":12.7},{"E":134.5,"chi":19},{"E":136.2,"chi":21},{"E":138.3,"chi":24.6},{"E":140.2,"chi":22.5},{"E":142.1,"chi":20},{"E":143.9,"chi":19},{"E":146,"chi":11.4},{"E":148.1,"chi":10.6},{"E":150.1,"chi":12.7},{"E":155.2,"chi":10.6},{"E":160.3,"chi":5.5},{"E":165,"chi":1.7},{"E":170,"chi":1.3},{"E":175.2,"chi":1.3},{"E":180,"chi":1.3},{"E":184.8,"chi":1.3},{"E":189.8,"chi":1.3},{"E":194.9,"chi":1.3},{"E":199.8,"chi":0.5}
]
},
"hconcat": [
{
 "title": {"text": "(a)", "orient": "bottom", "anchor": "middle", "frame": "bounds", "offset": 30, "fontSize": 17, "fontWeight": "normal"},
 "spacing": 11,
 "vconcat": [
 {
  "width": 383, "height": 292,
  "title": {"text": "EUVR @ θ = 2°→ 44°, Δθ = 3°", "fontSize": 16, "fontWeight": "bold", "offset": -5},
  "layer": [
   {"data": {"name": "band"}, "mark": {"type": "area", "color": "#0072BD", "opacity": 0.13, "clip": true},
    "encoding": {
     "x": {"field": "E", "type": "quantitative", "scale": {"domain": [70, 200], "nice": false, "zero": false}, "axis": {"values": [80, 100, 120, 140, 160, 180], "labels": false, "title": null, "grid": true, "gridColor": "#e6e6e6"}},
     "y": {"field": "lo", "type": "quantitative", "scale": {"type": "log", "domain": [0.00002, 1], "nice": false}, "axis": {"values": [0.00002,0.00003,0.00004,0.00005,0.00006,0.00007,0.00008,0.00009,0.0001,0.0002,0.0003,0.0004,0.0005,0.0006,0.0007,0.0008,0.0009,0.001,0.002,0.003,0.004,0.005,0.006,0.007,0.008,0.009,0.01,0.02,0.03,0.04,0.05,0.06,0.07,0.08,0.09,0.1,0.2,0.3,0.4,0.5,0.6,0.7,0.8,0.9,1], "title": "Reflectivity", "titlePadding": 8, "labelPadding": 5, "labelExpr": "datum.value == 1 ? '10⁰' : datum.value == 0.1 ? '10⁻¹' : datum.value == 0.01 ? '10⁻²' : datum.value == 0.001 ? '10⁻³' : datum.value == 0.0001 ? '10⁻⁴' : ''", "grid": true, "gridColor": {"condition": {"test": "indexof([1,0.1,0.01,0.001,0.0001], datum.value) >= 0", "value": "#e0e0e0"}, "value": "#e8e8e8"}, "gridDash": {"condition": {"test": "indexof([1,0.1,0.01,0.001,0.0001], datum.value) >= 0", "value": []}, "value": [1, 2]}}},
     "y2": {"field": "hi"},
     "detail": {"field": "c", "type": "nominal"}
    }},
   {"data": {"name": "exp"}, "mark": {"type": "line", "color": "#0072BD", "strokeWidth": 2.5, "clip": true},
    "encoding": {"x": {"field": "E", "type": "quantitative"}, "y": {"field": "R", "type": "quantitative"}, "detail": {"field": "c", "type": "nominal"}}},
   {"data": {"name": "fitA"}, "mark": {"type": "line", "color": "#7E2F8E", "strokeWidth": 1.5, "clip": true},
    "encoding": {"x": {"field": "E", "type": "quantitative"}, "y": {"field": "R", "type": "quantitative"}, "detail": {"field": "c", "type": "nominal"}}}
  ]
 },
 {
  "width": 383, "height": 41,
  "data": {"name": "chiA"},
  "mark": {"type": "circle", "size": 12, "color": "#D04A17", "opacity": 1},
  "encoding": {
   "x": {"field": "E", "type": "quantitative", "scale": {"domain": [70, 200], "nice": false, "zero": false}, "axis": {"values": [80, 100, 120, 140, 160, 180, 200], "title": "Energy [eV]", "grid": true, "gridColor": "#e6e6e6", "labelFlush": false, "labelOverlap": false, "labelPadding": 6, "titlePadding": 8}},
   "y": {"field": "chi", "type": "quantitative", "scale": {"domain": [0, 500], "nice": false}, "axis": {"values": [0, 500], "title": "χ²", "grid": false, "labelPadding": 5, "titlePadding": 8}}
  }
 }
 ]
},
{
 "title": {"text": "(b)", "orient": "bottom", "anchor": "middle", "frame": "bounds", "offset": 30, "fontSize": 17, "fontWeight": "normal"},
 "spacing": 11,
 "resolve": {"scale": {"color": "independent"}, "legend": {"color": "independent"}},
 "vconcat": [
 {
  "width": 383, "height": 292,
  "title": {"text": "EUVR @ θ = 2°→ 44°, Δθ = 3°", "fontSize": 16, "fontWeight": "bold", "offset": -5},
  "layer": [
   {"data": {"name": "band"}, "mark": {"type": "area", "color": "#0072BD", "opacity": 0.13, "clip": true},
    "encoding": {
     "x": {"field": "E", "type": "quantitative", "scale": {"domain": [70, 200], "nice": false, "zero": false}, "axis": {"values": [80, 100, 120, 140, 160, 180], "labels": false, "title": null, "grid": true, "gridColor": "#e6e6e6"}},
     "y": {"field": "lo", "type": "quantitative", "scale": {"type": "log", "domain": [0.00002, 1], "nice": false}, "axis": {"values": [0.00002,0.00003,0.00004,0.00005,0.00006,0.00007,0.00008,0.00009,0.0001,0.0002,0.0003,0.0004,0.0005,0.0006,0.0007,0.0008,0.0009,0.001,0.002,0.003,0.004,0.005,0.006,0.007,0.008,0.009,0.01,0.02,0.03,0.04,0.05,0.06,0.07,0.08,0.09,0.1,0.2,0.3,0.4,0.5,0.6,0.7,0.8,0.9,1], "title": "Reflectivity", "titlePadding": 8, "labelPadding": 5, "labelExpr": "datum.value == 1 ? '10⁰' : datum.value == 0.1 ? '10⁻¹' : datum.value == 0.01 ? '10⁻²' : datum.value == 0.001 ? '10⁻³' : datum.value == 0.0001 ? '10⁻⁴' : ''", "grid": true, "gridColor": {"condition": {"test": "indexof([1,0.1,0.01,0.001,0.0001], datum.value) >= 0", "value": "#e0e0e0"}, "value": "#e8e8e8"}, "gridDash": {"condition": {"test": "indexof([1,0.1,0.01,0.001,0.0001], datum.value) >= 0", "value": []}, "value": [1, 2]}}},
     "y2": {"field": "hi"},
     "detail": {"field": "c", "type": "nominal"}
    }},
   {"data": {"name": "exp"}, "mark": {"type": "line", "strokeWidth": 2.8, "clip": true},
    "encoding": {"x": {"field": "E", "type": "quantitative"}, "y": {"field": "R", "type": "quantitative"}, "detail": {"field": "c", "type": "nominal"},
     "color": {"datum": "experimental data", "type": "nominal", "scale": {"domain": ["experimental data", "fit result"], "range": ["#0072BD", "#7E2F8E"]},
      "legend": {"orient": "bottom-left", "offset": 9, "title": null, "fillColor": "white", "strokeColor": "#9a9a9a", "padding": 5, "symbolType": "M-3,0H3", "symbolStrokeWidth": 2.2, "symbolSize": 81, "labelFontSize": 12.5, "labelFont": "Liberation Sans", "labelColor": "#262626", "rowPadding": 1, "labelLimit": 200, "labelOffset": 16}}}},
   {"data": {"name": "exp"}, "transform": [{"filter": "datum.c <= 7 || datum.E <= 130"}], "mark": {"type": "line", "strokeWidth": 1.4, "clip": true},
    "encoding": {"x": {"field": "E", "type": "quantitative"}, "y": {"field": "R", "type": "quantitative"}, "detail": {"field": "c", "type": "nominal"}, "color": {"datum": "fit result", "type": "nominal"}}},
   {"data": {"name": "fitBtail"}, "mark": {"type": "line", "strokeWidth": 1.4, "clip": true},
    "encoding": {"x": {"field": "E", "type": "quantitative"}, "y": {"field": "R", "type": "quantitative"}, "detail": {"field": "c", "type": "nominal"}, "color": {"datum": "fit result", "type": "nominal"}}}
  ]
 },
 {
  "width": 383, "height": 41,
  "data": {"name": "chiB"},
  "mark": {"type": "circle", "size": 12, "color": "#D04A17", "opacity": 1},
  "encoding": {
   "x": {"field": "E", "type": "quantitative", "scale": {"domain": [70, 200], "nice": false, "zero": false}, "axis": {"values": [80, 100, 120, 140, 160, 180, 200], "title": "Energy [eV]", "grid": true, "gridColor": "#e6e6e6", "labelFlush": false, "labelOverlap": false, "labelPadding": 6, "titlePadding": 8}},
   "y": {"field": "chi", "type": "quantitative", "scale": {"domain": [0, 50], "nice": false}, "axis": {"values": [0, 50], "title": "χ²", "grid": false, "labelPadding": 5, "titlePadding": 8}}
  }
 }
 ]
}
],
"spacing": 11,
"resolve": {"scale": {"color": "independent"}, "legend": {"color": "independent"}}
}
